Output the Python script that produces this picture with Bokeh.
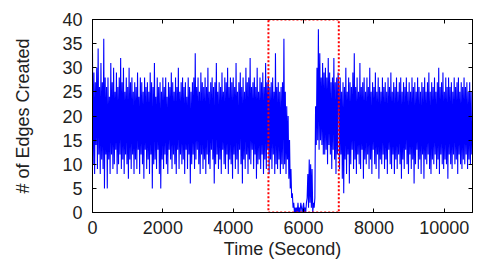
from bokeh.plotting import figure
from bokeh.models import Range1d, LinearAxis, FixedTicker, ColumnDataSource
from bokeh.embed import file_html
from bokeh.resources import INLINE

# ---- data ----
sample_interval = 20  # seconds between samples

edges_before = [
    33, 10, 29, 8, 27, 14, 30, 9, 34, 12, 26, 8, 31, 11, 27, 9, 36, 5, 28, 12,
    26, 5, 28, 11, 24, 8, 31, 12, 27, 9, 30, 10, 25, 13, 29, 8, 26, 10, 28, 12,
    32, 9, 27, 11, 30, 8, 25, 12, 28, 10, 26, 7, 30, 11, 27, 9, 28, 12, 25, 8,
    27, 11, 26, 9, 29, 13, 24, 8, 28, 12, 27, 10, 25, 7, 28, 13, 26, 9, 27, 11,
    25, 8, 29, 12, 27, 5, 26, 10, 31, 11, 24, 9, 28, 13, 26, 8, 27, 5, 25, 11,
    28, 9, 26, 12, 28, 10, 24, 8, 27, 13, 26, 11, 29, 9, 27, 12, 25, 10, 28, 8,
    26, 13, 30, 9, 25, 12, 27, 10, 28, 11, 26, 8, 27, 13, 24, 9, 28, 12, 26, 6,
    25, 10, 27, 12, 28, 9, 33, 11, 26, 13, 28, 10, 25, 8, 29, 12, 27, 9, 26, 11,
    28, 8, 26, 12, 30, 10, 25, 9, 27, 13, 28, 11, 26, 6, 27, 10, 31, 12, 25, 9,
    27, 11, 26, 8, 29, 13, 25, 10, 28, 9, 27, 12, 30, 8, 26, 11, 28, 10, 27, 7,
    28, 12, 26, 9, 31, 11, 25, 8, 27, 13, 29, 10, 26, 6, 28, 11, 25, 9, 30, 12,
    27, 8, 28, 11, 32, 10, 26, 13, 27, 9, 28, 12, 26, 7, 30, 10, 25, 11, 28, 9,
    27, 12, 29, 8, 26, 11, 31, 9, 27, 13,
]

edges_window = [
    28, 8, 26, 11, 27, 9, 28, 12, 25, 8, 33, 10, 26, 9, 27, 11, 25, 8, 26, 10,
    27, 9, 36, 10, 25, 8, 22, 11, 20, 7, 15, 5, 9, 3, 4, 1, 2, 0, 1, 0,
    1, 0, 2, 0, 1, 0, 2, 1, 0, 1, 2, 0, 1, 0, 2, 3, 8, 1, 11, 2,
    10, 1, 9, 0, 2, 1, 3, 22, 14, 30, 15, 38, 13, 33, 15, 28, 14, 31, 12, 29,
    12, 30, 13, 28, 10, 32, 14, 29, 12, 27, 9, 28, 13, 32, 11, 27, 8, 28, 12, 29,
]

edges_after = [
    26, 9, 28, 12, 25, 7, 27, 4, 26, 11, 30, 8, 25, 12, 28, 6, 27, 10, 26, 13,
    29, 9, 33, 11, 26, 8, 28, 12, 25, 10, 31, 9, 26, 13, 27, 7, 28, 11, 25, 10,
    28, 12, 26, 9, 30, 11, 25, 8, 27, 13, 26, 10, 29, 9, 25, 12, 28, 7, 26, 11,
    25, 10, 28, 12, 26, 9, 27, 11, 25, 8, 28, 13, 26, 10, 29, 9, 25, 12, 27, 8,
    26, 11, 28, 9, 25, 12, 27, 10, 28, 7, 25, 11, 27, 9, 26, 13, 28, 10, 25, 8,
    27, 12, 25, 9, 28, 11, 26, 6, 27, 10, 25, 13, 28, 9, 26, 11, 25, 8, 27, 12,
    26, 7, 28, 11, 25, 10, 27, 12, 29, 9, 25, 8, 27, 11, 26, 10, 28, 12, 25, 9,
    27, 11, 30, 8, 26, 12, 27, 10, 29, 9, 25, 11, 28, 10, 26, 7, 28, 12, 26, 10,
    27, 9, 25, 12, 28, 10, 26, 11, 27, 8, 28, 12, 25, 10, 27, 9, 26, 11, 28, 10,
    26, 12, 27, 9, 25, 11, 27, 10, 25, 12,
]

# highlighted window (red dotted box)
window_start = 5000
window_end = 7000
window_bottom = 0
window_top = 40

x_ticks = [0, 2000, 4000, 6000, 8000, 10000]
y_ticks = [0, 5, 10, 15, 20, 25, 30, 35, 40]
x_max = 10800
y_max = 40

edges = edges_before + edges_window + edges_after
times = [i * sample_interval for i in range(len(edges))]

FONT = "Liberation Sans"

p = figure(width=478, height=264, output_backend="svg", toolbar_location=None,
           x_range=Range1d(0, x_max), y_range=Range1d(0, y_max))
p.min_border_left = 92
p.min_border_right = 6
p.min_border_top = 19
p.min_border_bottom = 52
p.background_fill_color = "white"
p.border_fill_color = "white"
p.outline_line_color = "black"
p.outline_line_width = 1
p.xgrid.visible = False
p.ygrid.visible = False

src = ColumnDataSource(dict(t=times, e=edges))
p.line("t", "e", source=src, line_color="#0000ff", line_width=1.1)

p.quad(left=[window_start], right=[window_end], bottom=[window_bottom], top=[window_top],
       fill_alpha=0, line_color="#ff0000", line_width=2, line_dash="2 2")

def style_axis(ax, ticks, show_labels):
    ax.ticker = FixedTicker(ticks=ticks)
    ax.major_tick_in = 4
    ax.major_tick_out = 0
    ax.minor_tick_in = 0
    ax.minor_tick_out = 0
    ax.axis_line_color = "black"
    ax.major_tick_line_color = "black"
    ax.major_label_text_font = FONT
    ax.major_label_text_color = "#222222"
    ax.axis_label_text_font = FONT
    ax.axis_label_text_font_style = "normal"
    ax.axis_label_text_color = "#222222"
    if not show_labels:
        ax.major_label_text_color = None
        ax.major_label_text_font_size = "1px"
        ax.major_label_standoff = 0

xa = p.xaxis[0]
style_axis(xa, x_ticks, True)
xa.axis_label = "Time (Second)"
xa.major_label_text_font_size = "18px"
xa.axis_label_text_font_size = "18px"
xa.major_label_standoff = 8
xa.axis_label_standoff = 2

ya = p.yaxis[0]
style_axis(ya, y_ticks, True)
ya.axis_label = "# of Edges Created"
ya.major_label_text_font_size = "18px"
ya.axis_label_text_font_size = "18px"
ya.major_label_standoff = 10
ya.axis_label_standoff = 26

top_ax = LinearAxis()
style_axis(top_ax, x_ticks, False)
p.add_layout(top_ax, "above")
right_ax = LinearAxis()
style_axis(right_ax, y_ticks, False)
p.add_layout(right_ax, "right")

open("out.html", "w").write(file_html(p, INLINE))
